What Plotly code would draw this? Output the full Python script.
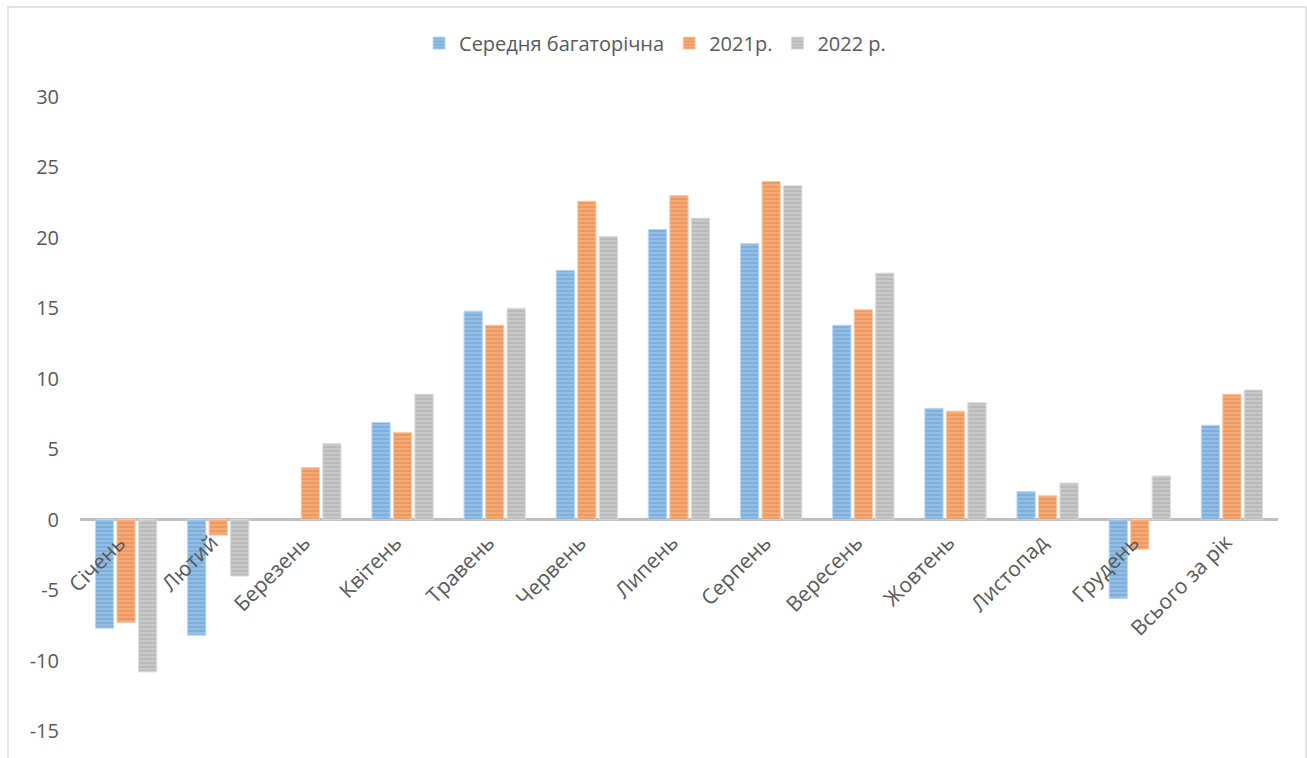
import plotly.graph_objects as go

categories = ["Січень", "Лютий", "Березень", "Квітень", "Травень", "Червень", "Липень",
              "Серпень", "Вересень", "Жовтень", "Листопад", "Грудень", "Всього за рік"]
series_names = ["Середня багаторічна", "2021р.", "2022 р."]
avg_values = [-7.7, -8.2, None, 6.9, 14.8, 17.7, 20.6, 19.6, 13.8, 7.9, 2.0, -5.6, 6.7]
y2021_values = [-7.3, -1.1, 3.7, 6.2, 13.8, 22.6, 23.0, 24.0, 14.9, 7.7, 1.7, -2.1, 8.9]
y2022_values = [-10.8, -4.0, 5.4, 8.9, 15.0, 20.1, 21.4, 23.7, 17.5, 8.3, 2.6, 3.1, 9.2]
y_ticks = [-15, -10, -5, 0, 5, 10, 15, 20, 25, 30]

FONT = "Open Sans"
TXT = "#595959"

styles = [
    ("#5B9BD5", "#9DC3E6", "#BDD7EE"),
    ("#ED7D31", "#F4B183", "#F8CBAD"),
    ("#A5A5A5", "#CDCDCD", "#DBDBDB"),
]

fig = go.Figure()
for name, vals, (fg, bg, edge) in zip(series_names, [avg_values, y2021_values, y2022_values], styles):
    fig.add_trace(go.Bar(
        x=categories, y=vals, name=name,
        marker=dict(color=bg,
                    pattern=dict(shape="-", fgcolor=fg, bgcolor=bg, size=4, solidity=0.62),
                    line=dict(color=edge, width=1)),
    ))

for c in categories:
    fig.add_annotation(x=c, y=0, xref="x", yref="y", text=c, showarrow=False,
                       textangle=-45, xanchor="right", yanchor="top",
                       xshift=8, yshift=-6,
                       font=dict(family=FONT, size=21, color=TXT))

# chart border
fig.add_shape(type="rect", xref="paper", yref="paper",
              x0=-0.0601, x1=1.0234, y0=-0.2, y1=1.142,
              line=dict(color="#D9D9D9", width=1.5), fillcolor="rgba(0,0,0,0)", layer="below")

fig.update_layout(
    width=1307, height=758,
    margin=dict(l=80, r=29, t=97, b=27, autoexpand=False),
    paper_bgcolor="white", plot_bgcolor="white",
    barmode="group", bargap=0.3, bargroupgap=0.15,
    font=dict(family=FONT, size=20, color=TXT),
    showlegend=True,
    legend=dict(orientation="h", x=0.48, xanchor="center", y=1.085, yanchor="middle",
                font=dict(family=FONT, size=20, color=TXT), itemwidth=30,
                traceorder="normal"),
    xaxis=dict(range=[-0.5, len(categories) - 0.5], showticklabels=False, showline=False,
               showgrid=False, zeroline=False, ticks=""),
    yaxis=dict(range=[-15, 30], tickvals=y_ticks, ticktext=[str(v) for v in y_ticks],
               showgrid=False, showline=False,
               zeroline=True, zerolinecolor="#BFBFBF", zerolinewidth=3,
               ticks="outside", ticklen=16, tickcolor="rgba(0,0,0,0)",
               tickfont=dict(family=FONT, size=20, color=TXT)),
)

fig.write_html("out.html")
